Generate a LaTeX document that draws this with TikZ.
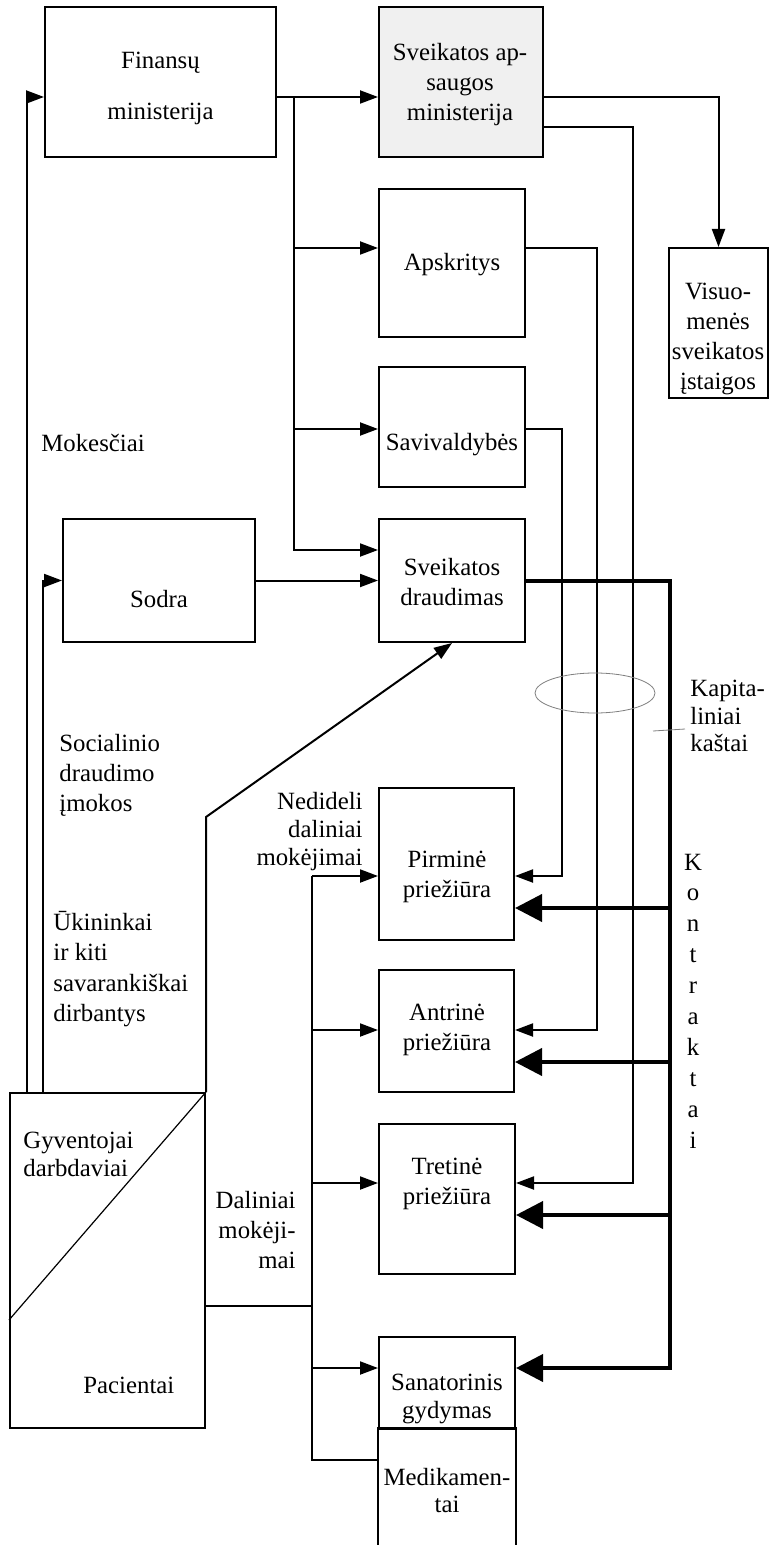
\documentclass[tikz,border=0pt]{standalone}
\usepackage{fontspec}
\setmainfont{Liberation Serif}
\usetikzlibrary{arrows.meta,calc}
\definecolor{samfill}{HTML}{F0F0F0}
\begin{document}
\begin{tikzpicture}[x=0.5pt,y=-0.5pt,
  bx/.style={draw,line width=1pt,rectangle,inner sep=0pt},
  txt/.style={inner sep=0pt,align=center,font=\fontsize{12.4}{15}\selectfont},
  ln/.style={line width=1pt},
  thk/.style={line width=2pt},
  arr/.style={line width=1pt,-{Triangle[length=9pt,width=6.5pt]}},
  tarr/.style={line width=2pt,-{Triangle[length=13.5pt,width=13.5pt]}},
  thin/.style={draw=gray,line width=0.4pt}]
\fill[white] (0,0) rectangle (769,1545);
\useasboundingbox (0,0) rectangle (769,1545);

% boxes
\node[bx,minimum width=115.5pt,minimum height=75pt] (fin) at (160.5,82) {};
\node[bx,fill=samfill,minimum width=82pt,minimum height=75pt] (sam) at (461,82) {};
\node[bx,minimum width=49.5pt,minimum height=75pt] (vis) at (718.5,323) {};
\node[bx,minimum width=73pt,minimum height=74pt] (aps) at (452,263) {};
\node[bx,minimum width=73pt,minimum height=60pt] (sav) at (452,427) {};
\node[bx,minimum width=73pt,minimum height=61.5pt] (sd) at (452,580.5) {};
\node[bx,minimum width=96pt,minimum height=61.5pt] (sodra) at (159,580.5) {};
\node[bx,minimum width=67.5pt,minimum height=76pt] (pir) at (446.5,864) {};
\node[bx,minimum width=67.5pt,minimum height=61pt] (ant) at (446.5,1031) {};
\node[bx,minimum width=68pt,minimum height=75pt] (tre) at (447,1199) {};
\node[bx,minimum width=68pt,minimum height=46pt] (san) at (447,1383) {};
\node[bx,draw=none,minimum width=68pt,minimum height=58pt] (med) at (447,1487) {};
\draw[ln] (med.south west) -- (med.north west) -- (med.north east) -- (med.south east);
\node[bx,minimum width=97.5pt,minimum height=167.5pt] (gyv) at (107.5,1260.5) {};
\draw[line width=0.6pt] (gyv.north east) -- ($(gyv.south west)+(0,-109)$);

% texts in boxes
\node[txt,font=\fontsize{12.4}{25.5}\selectfont] (finT) at (160.5,88) {Finansų\\ministerija};
\node[txt] (samT) at (460,85) {Sveikatos ap-\\saugos\\ministerija};
\node[txt] (visT) at (718,339) {Visuo-\\menės\\sveikatos\\įstaigos};
\node[txt] (apsT) at (452,265) {Apskritys};
\node[txt] (savT) at (452,445) {Savivaldybės};
\node[txt] (sdT) at (452,582) {Sveikatos\\draudimas};
\node[txt] (sodraT) at (159,599) {Sodra};
\node[txt] (pirT) at (447,877) {Pirminė\\priežiūra};
\node[txt] (antT) at (447,1030) {Antrinė\\priežiūra};
\node[txt] (treT) at (447,1184) {Tretinė\\priežiūra};
\node[txt,font=\fontsize{12.4}{14}\selectfont] (sanT) at (447,1399) {Sanatorinis\\gydymas};
\node[txt,font=\fontsize{12.4}{13.5}\selectfont] (medT) at (447,1490) {Medikamen-\\tai};
\node[txt,anchor=west,align=left,font=\fontsize{12.4}{14}\selectfont] (gyvT) at (23,1154) {Gyventojai\\darbdaviai};
\node[txt,anchor=west] (pacT) at (83,1385) {Pacientai};

% free labels
\node[txt,anchor=west] (mokT) at (41,443) {Mokesčiai};
\node[txt,anchor=west,align=left] (socT) at (59,775) {Socialinio\\draudimo\\įmokos};
\node[txt,anchor=west,align=left,font=\fontsize{12.4}{15.3}\selectfont] (ukT) at (53,969) {Ūkininkai\\ir kiti\\savarankiškai\\dirbantys};
\node[txt,anchor=east,align=right,font=\fontsize{12.4}{14}\selectfont] (nedT) at (363,832) {Nedideli\\daliniai\\mokėjimai};
\node[txt,anchor=east,align=right] (dalT) at (296,1230) {Daliniai\\mokėji-\\mai};
\node[txt,anchor=west,align=left,font=\fontsize{12.4}{13.75}\selectfont] (kapT) at (690,716) {Kapita-\\liniai\\kaštai};
\node[txt,font=\fontsize{12.4}{15.45}\selectfont] (konT) at (693,1001) {K\\o\\n\\t\\r\\a\\k\\t\\a\\i};

% ministry of finance bus
\coordinate (fb) at (294,97);
\coordinate (apsIn) at ($(aps.west)+(0,-15)$);
\coordinate (savIn) at ($(sav.west)+(0,2)$);
\coordinate (sdIn) at ($(sd.west)+(0,-30.5)$);
\draw[arr] ($(fin.east)+(0,15)$) -- ($(sam.west)+(0,15)$);
\draw[arr] (fb) |- (sdIn);
\draw[arr] (fb |- apsIn) -- (apsIn);
\draw[arr] (fb |- savIn) -- (savIn);

% ministry of health
\draw[arr] ($(sam.east)+(0,15)$) -| (vis.north);
\coordinate (treR) at ($(tre.east)+(0,-16)$);
\draw[arr] ($(sam.east)+(0,45)$) -| ($(treR)+(117,0)$) -- (treR);
\coordinate (antR) at ($(ant.east)+(0,-1)$);
\draw[arr] ($(aps.east)+(0,-15)$) -| ($(antR)+(82,0)$) -- (antR);
\coordinate (pirR) at ($(pir.east)+(0,12)$);
\draw[arr] ($(sav.east)+(0,2)$) -| ($(pirR)+(47,0)$) -- (pirR);

% contracts (thick)
\coordinate (kb) at (670,580.5);
\coordinate (sanR) at ($(san.east)+(0,-15)$);
\coordinate (pirR2) at ($(pir.east)+(0,44)$);
\coordinate (antR2) at ($(ant.east)+(0,31)$);
\coordinate (treR2) at ($(tre.east)+(0,16)$);
\draw[tarr] (sd.east) -| (kb |- sanR) -- (sanR);
\draw[tarr] (kb |- pirR2) -- (pirR2);
\draw[tarr] (kb |- antR2) -- (antR2);
\draw[tarr] (kb |- treR2) -- (treR2);

% capital costs mark
\draw[thin] (595,693) ellipse [x radius=30pt,y radius=10pt];
\draw[thin] (653,731) -- (685,729);

% population flows
\coordinate (gm) at ($(gyv.north west)+(18,0)$);
\coordinate (gs) at ($(gyv.north west)+(34,0)$);
\draw[arr] (gm) |- ($(fin.west)+(0,15)$);
\draw[arr] (gs) |- (sodra.west);
\draw[arr] (sodra.east) -- (sd.west);
\draw[arr] (gyv.north east) -- ++(0,-275) -- (sd.south);

% patients bus
\coordinate (gyvR) at ($(gyv.east)+(0,45.5)$);
\coordinate (lbx) at (312,1306);
\coordinate (pirL) at ($(pir.west)+(0,12)$);
\coordinate (antL) at ($(ant.west)+(0,-1)$);
\coordinate (treL) at ($(tre.west)+(0,-16)$);
\coordinate (sanL) at ($(san.west)+(0,-15)$);
\coordinate (medL) at ($(med.west)+(0,-27)$);
\draw[ln] (gyvR) -- (lbx);
\draw[ln] (lbx |- pirL) -- (lbx |- medL) -- (medL);
\draw[arr] (lbx |- pirL) -- (pirL);
\draw[arr] (lbx |- antL) -- (antL);
\draw[arr] (lbx |- treL) -- (treL);
\draw[arr] (lbx |- sanL) -- (sanL);
\end{tikzpicture}
\end{document}
